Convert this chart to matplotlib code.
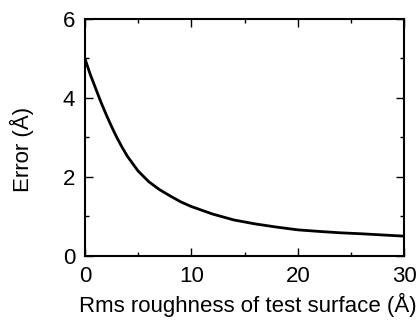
import numpy as np
import matplotlib
matplotlib.use('Agg')
import matplotlib.pyplot as plt
from matplotlib.ticker import MultipleLocator

plt.rcParams['font.family'] = ['Liberation Sans', 'DejaVu Sans']

# values
roughness = [0, 0.5, 1, 1.5, 2, 2.5, 3, 3.5, 4, 5, 6, 7, 8, 9, 10,
             12, 14, 16, 18, 20, 22, 24, 26, 28, 30]
error = [5.0, 4.6, 4.25, 3.9, 3.58, 3.28, 3.0, 2.75, 2.52, 2.15, 1.88, 1.68, 1.52, 1.37, 1.25,
         1.06, 0.91, 0.81, 0.73, 0.66, 0.62, 0.585, 0.56, 0.53, 0.50]

fig = plt.figure(figsize=(4.18, 3.26), dpi=100)
ax = fig.add_axes([0.203, 0.215, 0.764, 0.727])

ax.plot(roughness, error, color='black', linewidth=2.0)

ax.set_xlim(0, 30)
ax.set_ylim(0, 6)
ax.xaxis.set_major_locator(MultipleLocator(10))
ax.xaxis.set_minor_locator(MultipleLocator(5))
ax.yaxis.set_major_locator(MultipleLocator(2))
ax.yaxis.set_minor_locator(MultipleLocator(1))

ax.tick_params(which='both', direction='in', top=True, right=True, width=1.0)
ax.tick_params(which='major', length=6, labelsize=16, pad=7)
ax.tick_params(which='minor', length=3)
for s in ax.spines.values():
    s.set_linewidth(1.5)

ax.set_xlabel('Rms roughness of test surface (Å)', fontsize=16)
ax.set_ylabel('Error (Å)', fontsize=16)
ax.xaxis.set_label_coords(0.51, -0.155)
ax.yaxis.set_label_coords(-0.16, 0.45)

fig.savefig('out.png', dpi=100)
